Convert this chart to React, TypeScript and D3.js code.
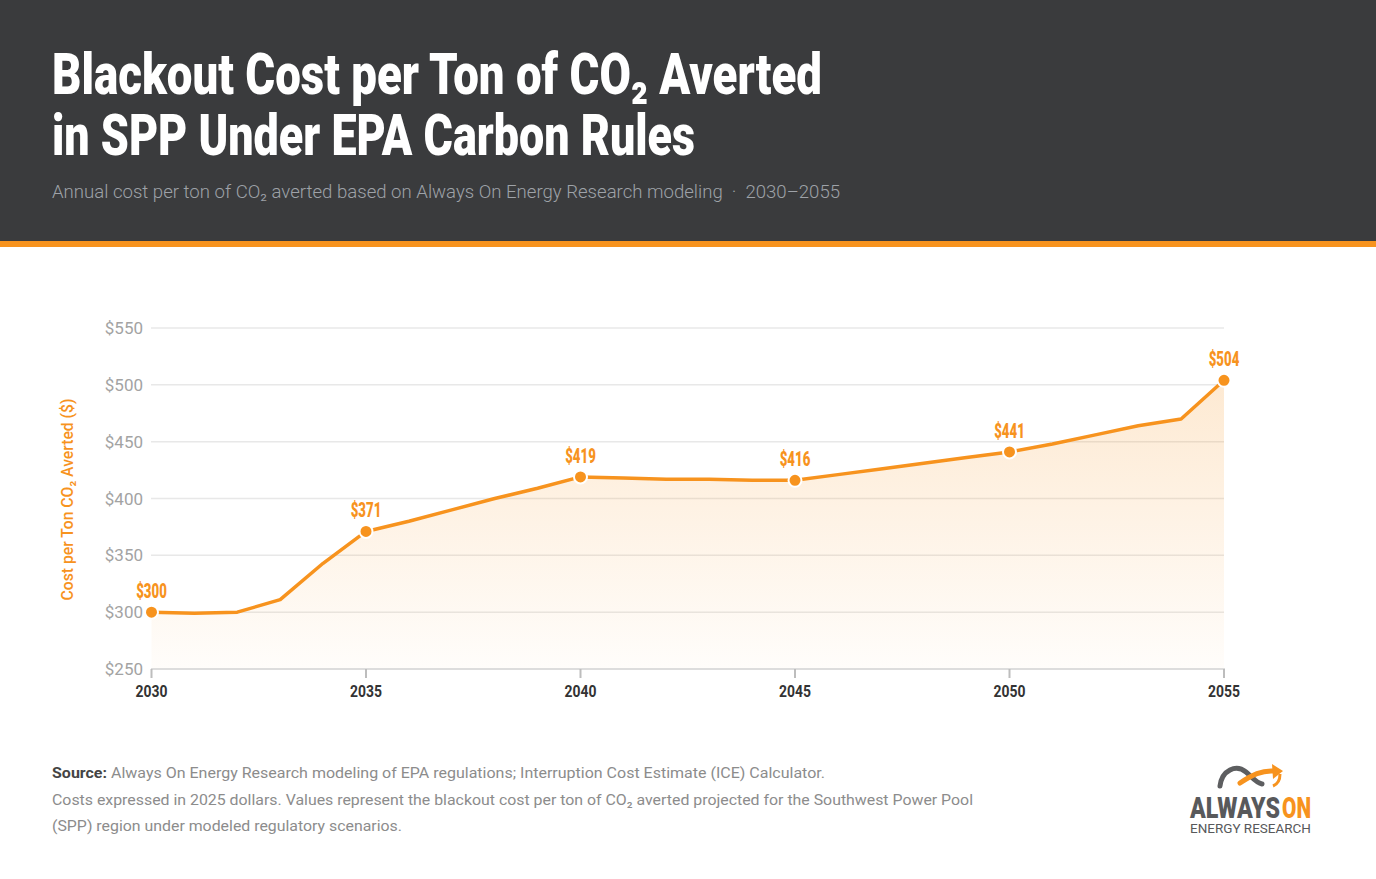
import React from 'react';
import * as d3 from 'd3';

// annual values
const years = [2030, 2031, 2032, 2033, 2034, 2035, 2036, 2037, 2038, 2039, 2040, 2041, 2042,
  2043, 2044, 2045, 2046, 2047, 2048, 2049, 2050, 2051, 2052, 2053, 2054, 2055];
const costs = [300, 299, 300, 311, 343, 371, 380, 390, 400, 409, 419, 418, 417,
  417, 416, 416, 421, 426, 431, 436, 441, 448, 456, 464, 470, 504];
const labeledYears = [2030, 2035, 2040, 2045, 2050, 2055];
const yTicks = [250, 300, 350, 400, 450, 500, 550];

const titleLines = ['Blackout Cost per Ton of CO₂ Averted', 'in SPP Under EPA Carbon Rules'];
const subtitle = 'Annual cost per ton of CO₂ averted based on Always On Energy Research modeling  ·  2030–2055';
const yTitle = 'Cost per Ton CO₂ Averted ($)';
const sourceText = 'Always On Energy Research modeling of EPA regulations; Interruption Cost Estimate (ICE) Calculator.';
const noteLines = [
  'Costs expressed in 2025 dollars. Values represent the blackout cost per ton of CO₂ averted projected for the Southwest Power Pool',
  '(SPP) region under modeled regulatory scenarios.'
];

const ORANGE = '#f7931e';
const DARK = '#3a3b3d';
const FONT = 'Roboto, "Noto Sans", sans-serif';

interface Pt { year: number; cost: number; }

const App: React.FC = () => {
  const svgRef = React.useRef<SVGSVGElement>(null);
  const width = 1376;
  const height = 879;

  React.useEffect(() => {
    if (!svgRef.current) return;
    const svg = d3.select(svgRef.current);
    svg.selectAll('*').remove();

    const data: Pt[] = years.map((y, i) => ({ year: y, cost: costs[i] }));

    // header
    svg.append('rect').attr('x', 0).attr('y', 0).attr('width', width).attr('height', 241).attr('fill', DARK);
    svg.append('rect').attr('x', 0).attr('y', 241).attr('width', width).attr('height', 6).attr('fill', ORANGE);

    const titleWidths = [770, 643];
    titleLines.forEach((t, i) => {
      svg.append('text')
        .attr('x', 52)
        .attr('y', 94 + i * 61)
        .attr('fill', '#ffffff')
        .attr('font-family', FONT)
        .attr('font-weight', 900)
        .attr('font-size', 58)
        .attr('textLength', titleWidths[i])
        .attr('lengthAdjust', 'spacingAndGlyphs')
        .text(t);
    });

    svg.append('text')
      .attr('x', 52)
      .attr('y', 198)
      .attr('fill', '#9ea2a8')
      .attr('font-family', FONT)
      .attr('font-weight', 300)
      .attr('font-size', 19)
      .attr('textLength', 788)
      .attr('lengthAdjust', 'spacingAndGlyphs')
      .style('white-space', 'pre')
      .text(subtitle);

    // chart
    const x = d3.scaleLinear().domain([2030, 2055]).range([151.5, 1224]);
    const y = d3.scaleLinear().domain([250, 550]).range([669, 328]);

    const defs = svg.append('defs');
    const grad = defs.append('linearGradient')
      .attr('id', 'areaGrad')
      .attr('x1', 0).attr('y1', 0).attr('x2', 0).attr('y2', 1);
    grad.append('stop').attr('offset', '0%').attr('stop-color', ORANGE).attr('stop-opacity', 0.2);
    grad.append('stop').attr('offset', '100%').attr('stop-color', ORANGE).attr('stop-opacity', 0.02);

    const g = svg.append('g');

    // gridlines
    g.selectAll('.grid')
      .data(yTicks.filter(t => t > 250))
      .enter().append('line')
      .attr('x1', 151).attr('x2', 1224)
      .attr('y1', d => y(d)).attr('y2', d => y(d))
      .attr('stroke', '#e8e8e8').attr('stroke-width', 1.5);

    // y tick labels
    g.selectAll('.ylab')
      .data(yTicks)
      .enter().append('text')
      .attr('x', 143)
      .attr('y', d => y(d) + 6)
      .attr('text-anchor', 'end')
      .attr('fill', '#a3a3a3')
      .attr('font-family', FONT)
      .attr('font-size', 17)
      .text(d => `$${d}`);

    // area
    const area = d3.area<Pt>()
      .x(d => x(d.year))
      .y0(y(250))
      .y1(d => y(d.cost));
    g.append('path').datum(data).attr('d', area).attr('fill', 'url(#areaGrad)');

    // bottom axis line + ticks
    g.append('line')
      .attr('x1', 151).attr('x2', 1225)
      .attr('y1', y(250)).attr('y2', y(250))
      .attr('stroke', '#dddddd').attr('stroke-width', 2);
    g.selectAll('.xtick')
      .data(labeledYears)
      .enter().append('line')
      .attr('x1', d => x(d)).attr('x2', d => x(d))
      .attr('y1', y(250)).attr('y2', y(250) + 9)
      .attr('stroke', '#bdbdbd').attr('stroke-width', 2);
    g.selectAll('.xlab')
      .data(labeledYears)
      .enter().append('text')
      .attr('transform', d => `translate(${x(d)},${y(250) + 28}) scale(0.82,1)`)
      .attr('text-anchor', 'middle')
      .attr('fill', '#333333')
      .attr('font-family', FONT)
      .attr('font-weight', 700)
      .attr('font-size', 17)
      .text(d => d);

    // line
    const line = d3.line<Pt>().x(d => x(d.year)).y(d => y(d.cost));
    g.append('path').datum(data)
      .attr('d', line)
      .attr('fill', 'none')
      .attr('stroke', ORANGE)
      .attr('stroke-width', 3.5)
      .attr('stroke-linejoin', 'round');

    const labeled = data.filter(d => labeledYears.includes(d.year));
    g.selectAll('.dot')
      .data(labeled)
      .enter().append('circle')
      .attr('cx', d => x(d.year))
      .attr('cy', d => y(d.cost))
      .attr('r', 6.5)
      .attr('fill', ORANGE)
      .attr('stroke', '#ffffff')
      .attr('stroke-width', 2);
    g.selectAll('.vlab')
      .data(labeled)
      .enter().append('text')
      .attr('transform', d => `translate(${x(d.year)},${y(d.cost) - 14}) scale(0.66,1)`)
      .attr('text-anchor', 'middle')
      .attr('fill', ORANGE)
      .attr('font-family', FONT)
      .attr('font-weight', 900)
      .attr('font-size', 20)
      .text(d => `$${d.cost}`);

    // y axis title
    svg.append('text')
      .attr('transform', `translate(73,${(y(250) + y(550)) / 2 + 1}) rotate(-90)`)
      .attr('text-anchor', 'middle')
      .attr('fill', ORANGE)
      .attr('font-family', FONT)
      .attr('font-weight', 500)
      .attr('font-size', 16)
      .attr('textLength', 202)
      .attr('lengthAdjust', 'spacingAndGlyphs')
      .text(yTitle);

    // footer
    const src = svg.append('text')
      .attr('x', 52).attr('y', 778)
      .attr('font-family', FONT)
      .attr('font-size', 15)
      .attr('textLength', 773)
      .attr('lengthAdjust', 'spacingAndGlyphs');
    src.append('tspan').attr('font-weight', 700).attr('fill', '#444444').text('Source: ');
    src.append('tspan').attr('fill', '#8c8c8c').text(sourceText);

    const noteWidths = [921, 350];
    noteLines.forEach((t, i) => {
      svg.append('text')
        .attr('x', 52).attr('y', 805 + i * 26)
        .attr('fill', '#8c8c8c')
        .attr('font-family', FONT)
        .attr('font-size', 15)
        .attr('textLength', noteWidths[i])
        .attr('lengthAdjust', 'spacingAndGlyphs')
        .text(t);
    });

    // logo
    const logo = svg.append('g');
    logo.append('path')
      .attr('d', 'M1220,786 C1222,770 1236,764 1246,772 C1252,777 1256,783 1262,784')
      .attr('fill', 'none').attr('stroke', '#5d5e60').attr('stroke-width', 5).attr('stroke-linecap', 'round');
    logo.append('path')
      .attr('d', 'M1240,783 C1252,775 1262,770 1274,771')
      .attr('fill', 'none').attr('stroke', ORANGE).attr('stroke-width', 5).attr('stroke-linecap', 'round');
    logo.append('path')
      .attr('d', 'M1272,764 L1283,771 L1273,779 Z')
      .attr('fill', ORANGE);
    logo.append('path')
      .attr('d', 'M1280,774 C1280,780 1278,784 1273,786')
      .attr('fill', 'none').attr('stroke', ORANGE).attr('stroke-width', 3);
    logo.append('text')
      .attr('transform', 'translate(1190,818) scale(1,1.2)')
      .attr('fill', '#58595b')
      .attr('font-family', FONT)
      .attr('font-weight', 900)
      .attr('font-size', 24)
      .attr('textLength', 90)
      .attr('lengthAdjust', 'spacingAndGlyphs')
      .text('ALWAYS');
    logo.append('text')
      .attr('transform', 'translate(1282,818) scale(1,1.2)')
      .attr('fill', ORANGE)
      .attr('font-family', FONT)
      .attr('font-weight', 900)
      .attr('font-size', 24)
      .attr('textLength', 29)
      .attr('lengthAdjust', 'spacingAndGlyphs')
      .text('ON');
    logo.append('text')
      .attr('x', 1190).attr('y', 833)
      .attr('fill', '#58595b')
      .attr('font-family', FONT)
      .attr('font-size', 12)
      .attr('textLength', 121)
      .attr('lengthAdjust', 'spacingAndGlyphs')
      .text('ENERGY RESEARCH');
  }, []);

  return (
    <div>
      <style>{'body{margin:0;background:#ffffff;}'}</style>
      <svg ref={svgRef} width={width} height={height} style={{ display: 'block' }} />
    </div>
  );
};

export default App;
